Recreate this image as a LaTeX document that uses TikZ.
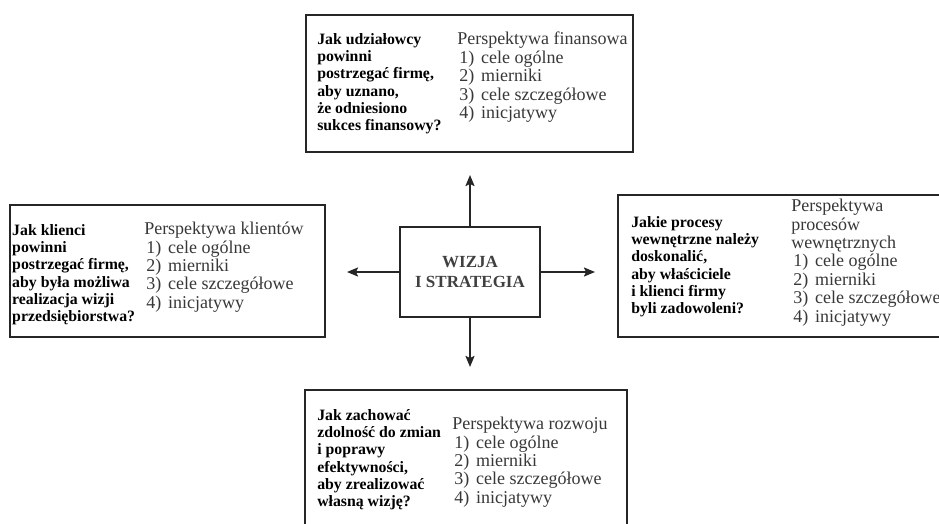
\documentclass[tikz,border=0pt]{standalone}
\usepackage{fontspec}
\setmainfont{Liberation Serif}
\usetikzlibrary{arrows.meta,positioning}
\tikzset{
  bscbox/.style={rectangle, draw=black!85, line width=1.9pt, inner sep=0pt},
  bscques/.style={anchor=north west, align=left, inner sep=0pt,
    font=\bfseries\fontsize{15.8}{17.3}\selectfont},
  bscpersp/.style={anchor=north west, align=left, inner sep=0pt, text=black!78,
    font=\fontsize{18}{18.4}\selectfont},
  bsccore/.style={bscbox, align=center, text=black!75,
    font=\bfseries\fontsize{17}{20}\selectfont},
  bscarrow/.style={-{Stealth[length=11pt,width=9pt,inset=2pt]}, line width=1.8pt, draw=black!85},
}
\newcommand{\bscitems}{\hspace*{2pt}1)\hspace{7pt}cele ogólne\\
  \hspace*{2pt}2)\hspace{7pt}mierniki\\
  \hspace*{2pt}3)\hspace{7pt}cele szczegółowe\\
  \hspace*{2pt}4)\hspace{7pt}inicjatywy}
\begin{document}
\begin{tikzpicture}[x=1pt, y=-1pt]
  \clip (0,0) rectangle (939,524);
  \fill[white] (0,0) rectangle (939,524);
  % boxes
  \node (fin) [bscbox, minimum width=327pt, minimum height=137pt] at (469.5,83.5) {};
  \node (kli) [bscbox, minimum width=315pt, minimum height=132pt] at (167.5,271) {};
  \node (pro) [bscbox, minimum width=330pt, minimum height=142pt] at (783,266) {};
  \node (roz) [bscbox, minimum width=322pt, minimum height=150pt] at (466,465) {};
  \node (wizja) [bsccore, minimum width=140pt, minimum height=90pt] at (470,272) {WIZJA\\I STRATEGIA};
  % texts
  \node (finq) [bscques, below right=19pt and 12pt of fin.north west]
    {Jak udziałowcy\\powinni\\postrzegać firmę,\\aby uznano,\\że odniesiono\\sukces finansowy?};
  \node (finp) [bscpersp, below right=18pt and 152pt of fin.north west]
    {Perspektywa finansowa\\\bscitems};
  \node (kliq) [bscques, below right=20pt and 3pt of kli.north west]
    {Jak klienci\\powinni\\postrzegać firmę,\\aby była możliwa\\realizacja wizji\\przedsiębiorstwa?};
  \node (klip) [bscpersp, below right=18pt and 135pt of kli.north west]
    {Perspektywa klientów\\\bscitems};
  \node (proq) [bscques, below right=22pt and 14pt of pro.north west]
    {Jakie procesy\\wewnętrzne należy\\doskonalić,\\aby właściciele\\i klienci firmy\\byli zadowoleni?};
  \node (prop) [bscpersp, below right=5pt and 174pt of pro.north west]
    {Perspektywa\\procesów\\wewnętrznych\\\bscitems};
  \node (rozq) [bscques, below right=20pt and 13pt of roz.north west]
    {Jak zachować\\zdolność do zmian\\i poprawy\\efektywności,\\aby zrealizować\\własną wizję?};
  \node (rozp) [bscpersp, below right=28pt and 148pt of roz.north west]
    {Perspektywa rozwoju\\\bscitems};
  % arrows
  \coordinate (tipN) at (470,175);
  \coordinate (tipS) at (470,367);
  \coordinate (tipW) at (347,272);
  \coordinate (tipE) at (595,272);
  \draw[bscarrow] (wizja.north) -- (tipN);
  \draw[bscarrow] (wizja.south) -- (tipS);
  \draw[bscarrow] (wizja.west) -- (tipW);
  \draw[bscarrow] (wizja.east) -- (tipE);
\end{tikzpicture}
\end{document}
